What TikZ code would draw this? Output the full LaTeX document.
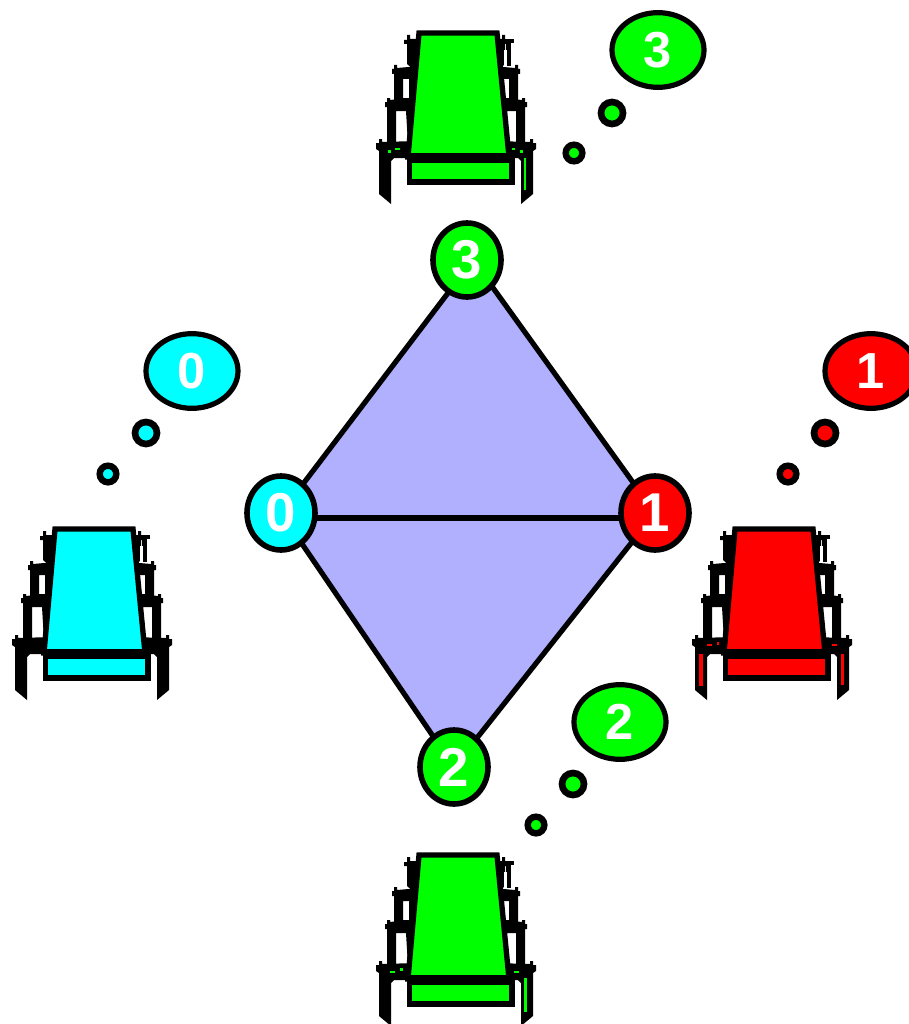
\documentclass[tikz,border=0pt]{standalone}
\usepackage{fontspec}
\usetikzlibrary{shapes.geometric,backgrounds}
\setmainfont{Liberation Sans}
\definecolor{facefill}{RGB}{176,176,255}
\definecolor{cyanc}{RGB}{0,255,255}
\definecolor{redc}{RGB}{255,0,0}
\definecolor{greenc}{RGB}{0,255,0}
\tikzset{
  x=0.75pt,y=-0.75pt,
  vertexnode/.style={ellipse,draw=black,line width=4.2pt,minimum width=51pt,minimum height=55.5pt,inner sep=0pt,text=white,font=\bfseries\fontsize{41}{41}\selectfont},
  thoughtbig/.style={ellipse,draw=black,line width=3.9pt,minimum width=69pt,minimum height=56pt,inner sep=0pt,text=white,font=\bfseries\fontsize{38}{38}\selectfont},
  thoughtmid/.style={circle,draw=black,line width=5pt,minimum size=16.5pt,inner sep=0pt},
  thoughtsmall/.style={circle,draw=black,line width=4.8pt,minimum size=12.5pt,inner sep=0pt},
  edgeline/.style={line width=3.9pt,draw=black},
  chairline/.style={line width=4pt,draw=black,line join=miter},
  pics/chair/.style={code={
    % ladder side and leg, drawn for the left and mirrored for the right
    \foreach \s in {1,-1}{
      \begin{scope}[xshift=-2.25pt,xscale=\s]
        % top finial and post
        \fill[black] (-52,26)--(-49,26)--(-49,21)--(-46,21)--(-46,25)--(-37,25)--(-37,30)--(-36,56)--(-42,56)--(-49,50)--(-49,30)--(-52,30)--cycle;
        % upper rung with its post and inner stile
        \fill[black] (-64,55)--(-62,55)--(-62,51)--(-59,51)--(-59,54)--(-36,52)--(-36,65)--(-53,65)--(-53,84)--(-47,84)--(-47,65)--(-37,65)--(-37,86)--(-62,86)--(-62,60)--(-64,60)--cycle;
        % lower rung with its post and inner stile
        \fill[black] (-71,88)--(-69,88)--(-69,84)--(-66,84)--(-66,86)--(-38,83)--(-38,97)--(-60,97)--(-60,128)--(-69,128)--(-69,93)--(-71,93)--cycle;
        \fill[black] (-50,97)--(-40,97)--(-38,130)--(-48,130)--cycle;
        % cross bar and leg
        \fill[black] (-80,129)--(-77,129)--(-77,125)--(-74,125)--(-74,128)--(-40,127)--(-40,144)--(-62,144)--(-65,147)--(-65,190)--(-77,180)--(-77,137)--(-80,135)--cycle;
      \end{scope}
    }
    % the right-hand top post stands apart from the backrest
    \fill[black] (45,25) rectangle (55,29);
    \fill[black] (47,29) rectangle (52,52);
    \fill[white] (45,36) rectangle (47.5,52);
    % backrest and seat
    \filldraw[chairline,fill=#1] (-40,19)--(38,19)--(50,143)--(-51,143)--cycle;
    \filldraw[chairline,fill=#1] (-49.5,146) rectangle (53,168);
    \draw[line width=6pt] (-49.5,143)--(53,143);
  }},
}
\begin{document}
\begin{tikzpicture}
\useasboundingbox (0,0) rectangle (909,1024);
% chairs
\pic at (95,510) {chair=cyanc};
\pic at (775,510) {chair=redc};
\pic at (459,14) {chair=greenc};
\pic at (459,836) {chair=greenc};
% coloured slivers showing through the red chair's legs
\fill[redc] (699,654) rectangle (703,686);
\fill[redc] (841,654) rectangle (844,685);
\fill[redc] (707,644) rectangle (712,646);
\fill[redc] (717,642) rectangle (719,645);
\fill[redc] (832,644) rectangle (837,646);
% coloured slivers on the upper green chair
\fill[greenc] (524,158) rectangle (526,190);
\fill[greenc] (388,150) rectangle (391,153);
\fill[greenc] (395,148) rectangle (400,150);
\fill[greenc] (512,148) rectangle (515,150);
\fill[greenc] (520,150) rectangle (523,153);
% coloured slivers on the lower green chair
\fill[greenc] (524,978) rectangle (527,1012);
\fill[greenc] (390,971) rectangle (395,973);
\fill[greenc] (400,968) rectangle (403,971);
\fill[greenc] (514,971) rectangle (519,973);
% vertices
\node[vertexnode,fill=cyanc] (v0) at (281,513) {0};
\node[vertexnode,fill=redc] (v1) at (655,513) {1};
\node[vertexnode,fill=greenc] (v2) at (454,767) {2};
\node[vertexnode,fill=greenc] (v3) at (467,260) {3};
% faces and edges of the complex, beneath the vertices
\begin{scope}[on background layer]
\fill[facefill] (v0.center)--([xshift=4.5pt]v3.center)--(v1.center)--(v2.center)--cycle;
\draw[edgeline] (v0.center)--([xshift=4.5pt]v3.center);
\draw[edgeline] ([xshift=4.5pt]v3.center)--(v1.center);
\draw[edgeline] (v1.center)--(v2.center);
\draw[edgeline] (v2.center)--(v0.center);
\draw[edgeline] ([yshift=-3.75pt]v0.center)--([yshift=-3.75pt]v1.center);
\end{scope}
% thought bubbles
\node[thoughtbig,fill=cyanc] (t0) at (192,371) {0};
\node[thoughtmid,fill=cyanc] (m0) at (146,433) {};
\node[thoughtsmall,fill=cyanc] (s0) at (108,474) {};
\node[thoughtbig,fill=redc] (t1) at (871,371) {1};
\node[thoughtmid,fill=redc] (m1) at (825,433) {};
\node[thoughtsmall,fill=redc] (s1) at (788,474) {};
\node[thoughtbig,fill=greenc] (t2) at (620,722) {2};
\node[thoughtmid,fill=greenc] (m2) at (573,784) {};
\node[thoughtsmall,fill=greenc] (s2) at (536,825) {};
\node[thoughtbig,fill=greenc] (t3) at (658,50) {3};
\node[thoughtmid,fill=greenc] (m3) at (612,113) {};
\node[thoughtsmall,fill=greenc] (s3) at (574,153) {};
\end{tikzpicture}
\end{document}
